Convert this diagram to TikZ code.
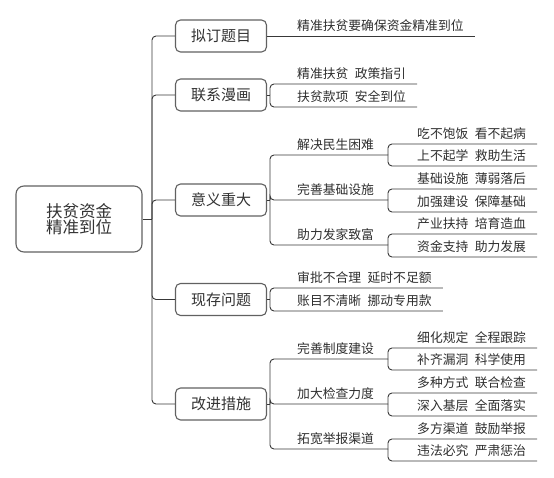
\documentclass[tikz,border=0pt]{standalone}
\usepackage{fontspec}
\setmainfont{Noto Sans CJK SC}
\tikzset{
  conn/.style={draw=black!78, line width=0.9pt, rounded corners=4pt},
  topic/.style={draw=black!62, line width=1.1pt, rounded corners=5pt, fill=white,
    minimum width=91pt, minimum height=32pt, inner sep=0pt,
    font=\fontsize{15}{17}\selectfont, text=black!80},
  rootbox/.style={draw=black!62, line width=1.1pt, rounded corners=8pt, fill=white,
    minimum width=126pt, minimum height=66pt, inner sep=0pt, align=center,
    font=\fontsize{16.5}{16.5}\selectfont, text=black!80},
  leaf/.style={anchor=south west, inner xsep=0pt, inner ysep=4.5pt,
    font=\fontsize{12.8}{14}\selectfont, text=black!82},
}
\begin{document}
\begin{tikzpicture}[x=1pt,y=-1pt]
\useasboundingbox (0,0) rectangle (554,478);
% root and topics
\node[rootbox] (root) at (79,219) {扶贫资金\\精准到位};
\node[topic] (b1) at (221,36) {拟订题目};
\node[topic] (b2) at (221,95) {联系漫画};
\node[topic] (b3) at (221,200) {意义重大};
\node[topic] (b4) at (221,299.5) {现存问题};
\node[topic] (b5) at (221,404) {改进措施};
\coordinate (tj) at (152,219);
\draw[conn] (root.east) -- (tj);
\foreach \b in {b1,b2,b3,b4,b5} \draw[conn] (tj) |- (\b.west);

% branch 1
\node[leaf] (l1) at (297,36) {精准扶贫要确保资金精准到位};
\draw[conn] (b1.east) -- ([xshift=11pt]l1.south east);

% branch 2
\coordinate (j2) at (270,95);
\node[leaf] (l21) at (297,84) {精准扶贫\enspace 政策指引};
\node[leaf] (l22) at (297,107) {扶贫款项\enspace 安全到位};
\draw[conn] (b2.east) -- (j2);
\foreach \n in {l21,l22} \draw[conn] (j2) |- ([xshift=11pt]\n.south east);

% branch 3
\coordinate (j3) at (270,200);
\draw[conn] (b3.east) -- (j3);
\node[leaf] (m31) at (297,155) {解决民生困难};
\node[leaf] (m32) at (297,200) {完善基础设施};
\node[leaf] (m33) at (297,245) {助力发家致富};
\coordinate (j31) at (388,155);
\coordinate (j32) at (388,200);
\coordinate (j33) at (388,245);
\foreach \j in {j31,j32,j33} \draw[conn] (j3) |- (\j);
\node[leaf] (l311) at (417,144) {吃不饱饭\enspace 看不起病};
\node[leaf] (l312) at (417,166) {上不起学\enspace 救助生活};
\node[leaf] (l321) at (417,189) {基础设施\enspace 薄弱落后};
\node[leaf] (l322) at (417,212) {加强建设\enspace 保障基础};
\node[leaf] (l331) at (417,234) {产业扶持\enspace 培育造血};
\node[leaf] (l332) at (417,257) {资金支持\enspace 助力发展};
\foreach \n in {l311,l312} \draw[conn] (j31) |- ([xshift=11pt]\n.south east);
\foreach \n in {l321,l322} \draw[conn] (j32) |- ([xshift=11pt]\n.south east);
\foreach \n in {l331,l332} \draw[conn] (j33) |- ([xshift=11pt]\n.south east);

% branch 4
\coordinate (j4) at (270,299.5);
\draw[conn] (b4.east) -- (j4);
\node[leaf] (l41) at (297,288) {审批不合理\enspace 延时不足额};
\node[leaf] (l42) at (297,311) {账目不清晰\enspace 挪动专用款};
\foreach \n in {l41,l42} \draw[conn] (j4) |- ([xshift=11pt]\n.south east);

% branch 5
\coordinate (j5) at (270,404);
\draw[conn] (b5.east) -- (j5);
\node[leaf] (m51) at (297,359) {完善制度建设};
\node[leaf] (m52) at (297,404) {加大检查力度};
\node[leaf] (m53) at (297,449) {拓宽举报渠道};
\coordinate (j51) at (388,359);
\coordinate (j52) at (388,404);
\coordinate (j53) at (388,449);
\foreach \j in {j51,j52,j53} \draw[conn] (j5) |- (\j);
\node[leaf] (l511) at (417,348) {细化规定\enspace 全程跟踪};
\node[leaf] (l512) at (417,370) {补齐漏洞\enspace 科学使用};
\node[leaf] (l521) at (417,393) {多种方式\enspace 联合检查};
\node[leaf] (l522) at (417,416) {深入基层\enspace 全面落实};
\node[leaf] (l531) at (417,439) {多方渠道\enspace 鼓励举报};
\node[leaf] (l532) at (417,461) {违法必究\enspace 严肃惩治};
\foreach \n in {l511,l512} \draw[conn] (j51) |- ([xshift=11pt]\n.south east);
\foreach \n in {l521,l522} \draw[conn] (j52) |- ([xshift=11pt]\n.south east);
\foreach \n in {l531,l532} \draw[conn] (j53) |- ([xshift=11pt]\n.south east);
\end{tikzpicture}
\end{document}
